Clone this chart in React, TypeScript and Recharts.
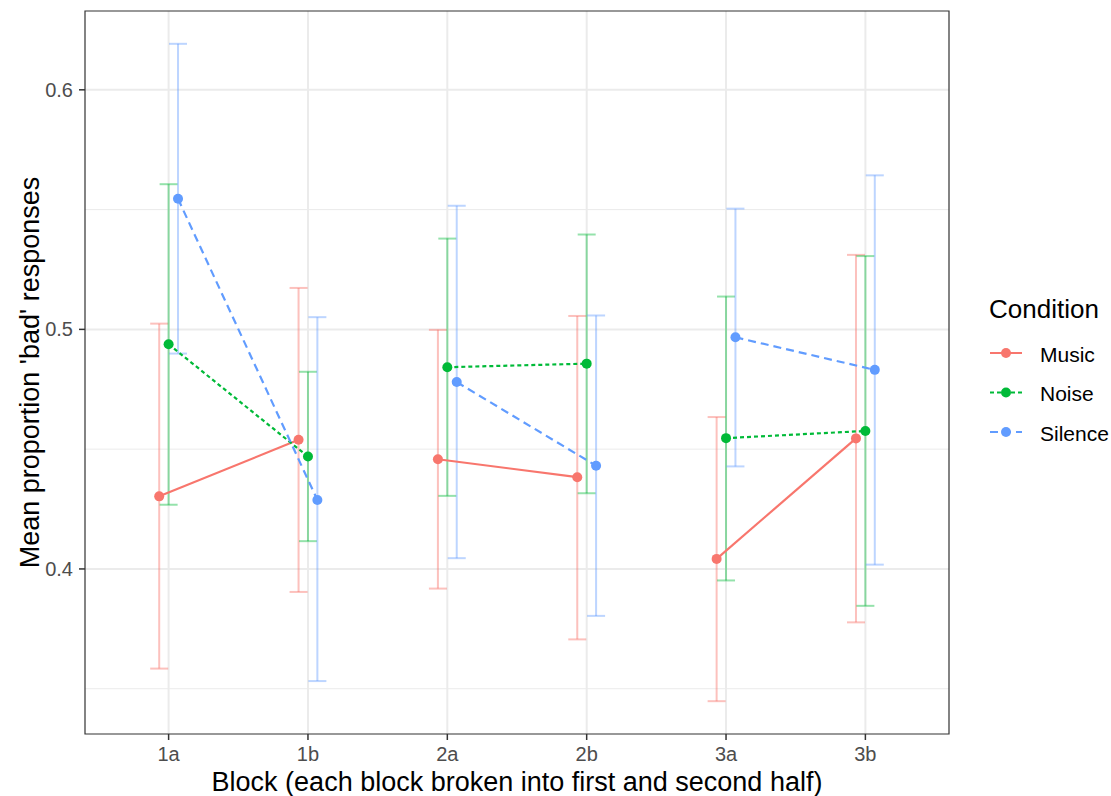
import { ComposedChart, Scatter, XAxis, YAxis, CartesianGrid, ErrorBar, ReferenceArea } from "recharts";

const blocks = ["1a", "1b", "2a", "2b", "3a", "3b"];
const conditions = ["Music", "Noise", "Silence"];

const musicMean = [0.4303, 0.4539, 0.4458, 0.4383, 0.4042, 0.4545];
const musicLow = [0.3584, 0.3904, 0.3918, 0.3706, 0.3448, 0.3777];
const musicHigh = [0.5024, 0.5173, 0.4998, 0.5056, 0.4634, 0.5311];

const noiseMean = [0.4938, 0.4469, 0.4842, 0.4857, 0.4546, 0.4576];
const noiseLow = [0.4268, 0.4116, 0.4305, 0.4316, 0.3952, 0.3846];
const noiseHigh = [0.5606, 0.4823, 0.5379, 0.5396, 0.5137, 0.5306];

const silenceMean = [0.5545, 0.4288, 0.478, 0.4431, 0.4967, 0.4831];
const silenceLow = [0.4899, 0.3532, 0.4045, 0.3804, 0.4428, 0.4018];
const silenceHigh = [0.6192, 0.5051, 0.5516, 0.5058, 0.5504, 0.5643];

const yTicks = [0.4, 0.5, 0.6];
const yMinor = [0.35, 0.45, 0.55];
const pairs = [[0, 1], [2, 3], [4, 5]];

const DODGE = 0.0675;
const FONT = "'Liberation Sans', Arial, Helvetica, sans-serif";

const series = [
  { name: conditions[0], mean: musicMean, low: musicLow, high: musicHigh, color: "#F8766D", bar: "rgba(248,118,109,0.45)", dash: undefined },
  { name: conditions[1], mean: noiseMean, low: noiseLow, high: noiseHigh, color: "#00BA38", bar: "rgba(0,186,56,0.42)", dash: "4 3" },
  { name: conditions[2], mean: silenceMean, low: silenceLow, high: silenceHigh, color: "#619CFF", bar: "rgba(97,156,255,0.42)", dash: "8 5" },
];

const rowsFor = (s: (typeof series)[number], idx: number) =>
  blocks.map((_, i) => ({
    x: i + 1 + (idx - 1) * DODGE,
    y: s.mean[i],
    err: [s.mean[i] - s.low[i], s.high[i] - s.mean[i]],
  }));

const Dot = (color: string) => (props: any) => <circle cx={props.cx} cy={props.cy} r={5} fill={color} />;

function Legend() {
  return (
    <svg width={1111} height={796} style={{ position: "absolute", left: 0, top: 0, pointerEvents: "none" }}>
      <text x={989} y={318} fontSize={26} fill="#000" fontFamily={FONT}>Condition</text>
      {series.map((s, i) => {
        const cy = 353 + i * 39.5;
        return (
          <g key={s.name}>
            <line x1={990} x2={1022} y1={cy} y2={cy} stroke={s.color} strokeWidth={2} strokeDasharray={s.dash} />
            <circle cx={1006} cy={cy} r={5} fill={s.color} />
            <text x={1040} y={cy + 8.5} fontSize={21} fill="#000" fontFamily={FONT}>{s.name}</text>
          </g>
        );
      })}
    </svg>
  );
}

export default function App() {
  return (
    <div style={{ position: "absolute", left: 0, top: 0, width: 1111, height: 796, background: "#fff", fontFamily: FONT }}>
      <ComposedChart width={1111} height={796} margin={{ top: 11, right: 162, bottom: 0, left: 0 }}>
        <CartesianGrid horizontalValues={yMinor} vertical={false} stroke="#ebebeb" strokeWidth={1} />
        <CartesianGrid horizontalValues={yTicks} verticalValues={[1, 2, 3, 4, 5, 6]} stroke="#ebebeb" strokeWidth={2} />
        <XAxis
          type="number"
          dataKey="x"
          domain={[0.4, 6.6]}
          allowDataOverflow
          ticks={[1, 2, 3, 4, 5, 6]}
          interval={0}
          tickFormatter={(v) => blocks[Math.round(v) - 1]}
          height={62}
          axisLine={false}
          tickLine={{ stroke: "#333", strokeWidth: 1.5 }}
          tickSize={6}
          tickMargin={7}
          tick={{ fill: "#4d4d4d", fontSize: 20 }}
          label={{ value: "Block (each block broken into first and second half)", position: "insideBottom", offset: 5, fontSize: 27, fill: "#000" }}
        />
        <YAxis
          type="number"
          dataKey="y"
          domain={[0.3311, 0.6329]}
          allowDataOverflow
          ticks={yTicks}
          interval={0}
          tickFormatter={(v) => v.toFixed(1)}
          width={85}
          axisLine={false}
          tickLine={{ stroke: "#333", strokeWidth: 1.5 }}
          tickSize={6}
          tickMargin={6}
          tick={{ fill: "#4d4d4d", fontSize: 20 }}
          label={{ value: "Mean proportion 'bad' responses", angle: -90, position: "insideLeft", offset: 29, fontSize: 27, fill: "#000", style: { textAnchor: "middle" } }}
        />
        {series.map((s, idx) => (
          <Scatter key={"eb" + s.name} data={rowsFor(s, idx)} fill="none" isAnimationActive={false}>
            <ErrorBar dataKey="err" direction="y" width={9} stroke={s.bar} strokeWidth={2} isAnimationActive={false} />
          </Scatter>
        ))}
        {series.map((s, idx) =>
          pairs.map((p) => {
            const rows = rowsFor(s, idx);
            return (
              <Scatter
                key={s.name + p[0]}
                data={[rows[p[0]], rows[p[1]]]}
                fill={s.color}
                line={{ stroke: s.color, strokeWidth: 2.2, strokeDasharray: s.dash }}
                shape={Dot(s.color)}
                isAnimationActive={false}
              />
            );
          })
        )}
        <ReferenceArea x1={0.4} x2={6.6} y1={0.3311} y2={0.6329} fill="none" stroke="#333" strokeWidth={1.2} ifOverflow="visible" />
      </ComposedChart>
      <Legend />
    </div>
  );
}
